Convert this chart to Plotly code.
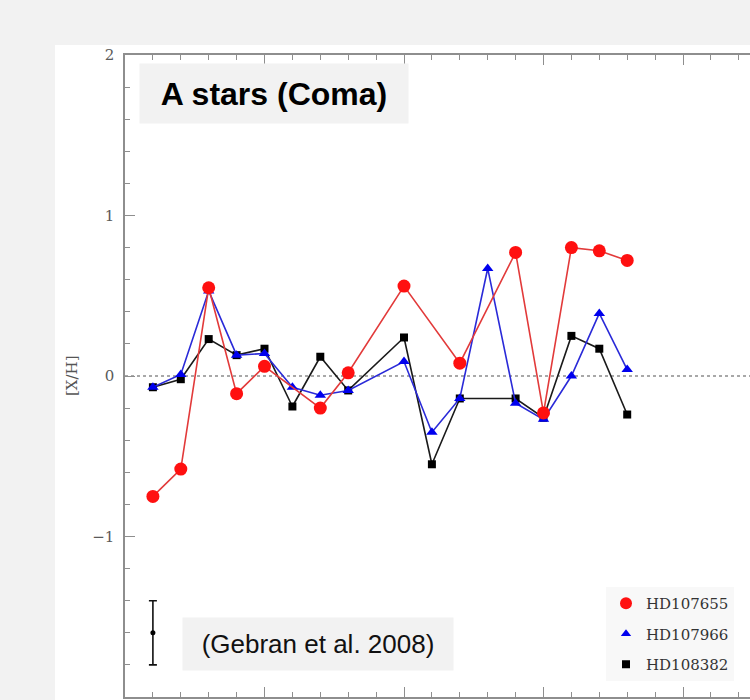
import plotly.graph_objects as go

# Element index along the abscissa
element_index = list(range(1, 19))

# [X/H] abundances per star (None = not measured)
hd107655 = [-0.75, -0.58, 0.55, -0.11, 0.06, None, -0.20, 0.02, None,
            0.56, None, 0.08, None, 0.77, -0.23, 0.80, 0.78, 0.72]
hd107966 = [-0.07, 0.01, 0.53, 0.13, 0.14, -0.07, -0.12, -0.09, None,
            0.09, -0.35, -0.14, 0.67, -0.17, -0.27, 0.00, 0.39, 0.04]
hd108382 = [-0.07, -0.02, 0.23, 0.13, 0.17, -0.19, 0.12, -0.09, None,
            0.24, -0.55, -0.14, None, -0.14, -0.26, 0.25, 0.17, -0.24]

star_names = ["HD107655", "HD107966", "HD108382"]

# Typical uncertainty shown as a sample error bar
err_x = [1]
err_y = [-1.6]
err_size = [0.2]

y_tickvals = [2, 1, 0, -1, -2]
y_ticktext = ["2", "1", "0", "\u22121", "\u22122"]

AXIS_GRAY = "#8e8e8e"
SERIF = "DejaVu Serif"

fig = go.Figure()

styles = {
    "HD108382": dict(line="#1a1a1a", marker="#000000", symbol="square", size=8),
    "HD107966": dict(line="#2a2ad8", marker="#0000ee", symbol="triangle-up", size=10),
    "HD107655": dict(line="#e23a3a", marker="#ff1010", symbol="circle", size=13),
}

# Data series (black drawn first, red on top)
for name, vals in [("HD108382", hd108382), ("HD107966", hd107966), ("HD107655", hd107655)]:
    s = styles[name]
    fig.add_trace(go.Scatter(
        x=element_index, y=vals, mode="lines+markers", connectgaps=True,
        line=dict(color=s["line"], width=1.6),
        marker=dict(color=s["marker"], symbol=s["symbol"], size=s["size"]),
        showlegend=False, name=name,
    ))

# Sample error bar
fig.add_trace(go.Scatter(
    x=err_x, y=err_y, mode="markers",
    marker=dict(color="#000000", size=5),
    error_y=dict(type="data", array=err_size, color="#111111", thickness=1.6, width=4),
    showlegend=False,
))

# Legend entries (markers only)
for i, name in enumerate(star_names):
    s = styles[name]
    fig.add_trace(go.Scatter(
        x=[None], y=[None], mode="markers", name=name, legendgroup=f"g{i}",
        marker=dict(color=s["marker"], symbol=s["symbol"],
                    size={"circle": 12, "triangle-up": 9, "square": 8}[s["symbol"]]),
    ))

W, H = 750, 700
L, R, T, B = 125, 0, 55, 3
pw, ph = W - L - R, H - T - B


def px(xp):
    return (xp - L) / pw


def py(yp):
    return (H - B - yp) / ph


fig.update_layout(
    width=W, height=H,
    margin=dict(l=L, r=R, t=T, b=B, autoexpand=False),
    paper_bgcolor="#f2f2f2",
    plot_bgcolor="rgba(0,0,0,0)",
    showlegend=True,
    legend=dict(
        x=px(606), y=py(587), xanchor="left", yanchor="top",
        bgcolor="#f8f8f8", borderwidth=0,
        font=dict(family=SERIF, size=15, color="#333333"),
        tracegroupgap=8, itemsizing="trace", itemwidth=30,
    ),
    xaxis=dict(
        range=[0, pw / 27.9], showgrid=False, zeroline=False,
        showline=True, linecolor=AXIS_GRAY, linewidth=1.5, mirror="ticks",
        ticks="inside", tickcolor=AXIS_GRAY, tickwidth=1.3, ticklen=10,
        tick0=0, dtick=5, showticklabels=False,
        minor=dict(ticks="inside", dtick=1, ticklen=5, tickcolor=AXIS_GRAY, tickwidth=1.3),
        automargin=False,
    ),
    yaxis=dict(
        range=[-2, 2], showgrid=False, zeroline=False,
        showline=True, linecolor=AXIS_GRAY, linewidth=1.5, mirror=False,
        ticks="inside", tickcolor=AXIS_GRAY, tickwidth=1.3, ticklen=10,
        tickvals=y_tickvals, ticktext=y_ticktext, ticklabelstandoff=6,
        tickfont=dict(family=SERIF, size=15, color="#5a5a5a"),
        minor=dict(ticks="inside", dtick=0.2, tick0=0, ticklen=5,
                   tickcolor=AXIS_GRAY, tickwidth=1.3),
        automargin=False,
    ),
    shapes=[
        # white panel behind the figure
        dict(type="rect", xref="paper", yref="paper", layer="below",
             x0=px(55), x1=px(760), y0=py(705), y1=py(45),
             fillcolor="#ffffff", line=dict(width=0)),
        # dotted solar reference level
        dict(type="line", xref="paper", yref="y", x0=0, x1=1, y0=0, y1=0,
             line=dict(color="#a8a8a8", width=2, dash="dot"), layer="below"),
    ],
    annotations=[
        dict(text="<b>A stars (Coma)</b>", xref="paper", yref="paper",
             x=px(139), y=py(63), xanchor="left", yanchor="top",
             width=268, height=59, align="center", valign="middle",
             bgcolor="#f2f2f2", borderpad=0, showarrow=False,
             font=dict(family="Liberation Sans", size=32, color="#000000")),
        dict(text="(Gebran et al. 2008)", xref="paper", yref="paper",
             x=px(182), y=py(617), xanchor="left", yanchor="top",
             width=270, height=52, align="center", valign="middle",
             bgcolor="#f2f2f2", borderpad=0, showarrow=False,
             font=dict(family="Liberation Sans", size=26, color="#111111")),
        dict(text="[X/H]", xref="paper", yref="y", x=px(72), y=0,
             xanchor="center", yanchor="middle", textangle=-90, showarrow=False,
             font=dict(family=SERIF, size=15, color="#555555")),
    ],
)

fig.write_html("out.html")
